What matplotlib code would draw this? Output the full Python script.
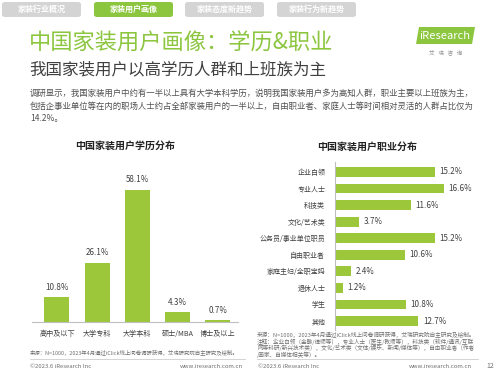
import matplotlib
matplotlib.use('Agg')
import matplotlib.pyplot as plt
from matplotlib.patches import FancyBboxPatch, Polygon
from matplotlib.lines import Line2D

plt.rcParams['font.family'] = ['Noto Sans CJK SC', 'DejaVu Sans']

# 学历分布
eduLabels = ['高中及以下', '大学专科', '大学本科', '硕士/MBA', '博士及以上']
eduValues = [10.8, 26.1, 58.1, 4.3, 0.7]

# 职业分布
jobLabels = ['企业白领', '专业人士', '科技类', '文化/艺术类', '公务员/事业单位职员',
             '自由职业者', '家庭主妇/全职宝妈', '退休人士', '学生', '其他']
jobValues = [15.2, 16.6, 11.6, 3.7, 15.2, 10.6, 2.4, 1.2, 10.8, 12.7]

tabs = ['家装行业概况', '家装用户画像', '家装态度新趋势', '家装行为新趋势']

W, H = 500, 375
GREEN = '#8cc63f'
BAR = '#9cc73a'
DARK = '#404040'


def fx(x):
    return x / W


def fy(y):
    return 1 - y / H


def axes_px(fig, x0, y0, x1, y1):
    return fig.add_axes([fx(x0), fy(y1), (x1 - x0) / W, (y1 - y0) / H])


fig = plt.figure(figsize=(5, 3.75), dpi=100)
fig.patch.set_facecolor('white')

# tabs
tabX = [0, 92, 183, 275]
for i, t in enumerate(tabs):
    col = GREEN if i == 1 else '#d4d4d4'
    fig.patches.append(FancyBboxPatch((fx(tabX[i] + 2), fy(17)), 79 / W, 15 / H,
                                      boxstyle='round,pad=0,rounding_size=0.006',
                                      transform=fig.transFigure, fc=col, ec='none'))
    fig.text(fx(tabX[i] + 41.5), fy(9.5), t, color='white', fontsize=5.8,
             fontweight='bold', ha='center', va='center')

# title block
fig.text(fx(29), fy(43), '中国家装用户画像：学历&职业', color=GREEN, fontsize=16,
         ha='left', va='center')
fig.text(fx(29), fy(70), '我国家装用户以高学历人群和上班族为主', color=DARK,
         fontsize=11.9, ha='left', va='center')
body = ['调研显示，我国家装用户中约有一半以上具有大学本科学历，说明我国家装用户多为高知人群，职业主要以上班族为主，',
        '包括企事业单位等在内的职场人士约占全部家装用户的一半以上，自由职业者、家庭人士等时间相对灵活的人群占比仅为',
        '14.2%。']
for i, line in enumerate(body):
    fig.text(fx(30), fy(93 + 13 * i), line, color='#505050', fontsize=6.05,
             ha='left', va='center')

# logo
fig.patches.append(Polygon([(fx(416), fy(44)), (fx(472), fy(44)), (fx(475), fy(27)),
                            (fx(419), fy(27))], closed=True, transform=fig.transFigure,
                           fc=GREEN, ec='none'))
fig.text(fx(445), fy(36), 'iResearch', color='white', fontsize=8, ha='center',
         va='center')
fig.text(fx(446), fy(52), '艾   瑞   咨   询', color='#909090', fontsize=4,
         ha='center', va='center')

# left chart
fig.text(fx(125), fy(146), '中国家装用户学历分布', color='#222222', fontsize=7.2,
         fontweight='bold', ha='center', va='center')
ax1 = axes_px(fig, 32, 160, 238, 322)
xs = range(len(eduValues))
ax1.bar(xs, eduValues, width=0.62, color=BAR)
for x, v in zip(xs, eduValues):
    ax1.text(x, v + 2.5, f'{v}%', ha='center', va='bottom', fontsize=5.8, color=DARK)
ax1.set_xlim(-0.62, 4.5)
ax1.set_ylim(0, 71.3)
for s in ['top', 'right', 'left']:
    ax1.spines[s].set_visible(False)
ax1.spines['bottom'].set_color('#bfbfbf')
ax1.set_yticks([])
ax1.set_xticks(list(xs))
ax1.set_xticklabels(eduLabels, fontsize=5.1, color=DARK)
ax1.tick_params(axis='x', length=0, pad=6)

fig.text(fx(30), fy(352), '来源：N=1000，2023年4月通过iClick线上问卷调研获得，艾瑞研究院自主研究及绘制。',
         fontsize=3.9, color='#707070', ha='left', va='center')
fig.lines.append(Line2D([fx(30), fx(245)], [fy(359), fy(359)], transform=fig.transFigure,
                        color='#cccccc', lw=0.6))
fig.text(fx(30), fy(367), '©2023.6 iResearch Inc', fontsize=4.3, color='#707070',
         ha='left', va='center')
fig.text(fx(243), fy(367), 'www.iresearch.com.cn', fontsize=4.3, color='#707070',
         ha='right', va='center')

# right chart
fig.text(fx(367), fy(147), '中国家装用户职业分布', color='#222222', fontsize=7.2,
         fontweight='bold', ha='center', va='center')
ax2 = axes_px(fig, 335, 162, 495, 330)
ys = range(len(jobValues))
ax2.barh(ys, jobValues, height=0.6, color=BAR)
for y, v in zip(ys, jobValues):
    ax2.text(v + 0.7, y, f'{v}%', ha='left', va='center', fontsize=5.8, color=DARK)
ax2.set_xlim(0, 24.4)
ax2.set_ylim(9.54, -0.6)
for s in ['top', 'right', 'bottom']:
    ax2.spines[s].set_visible(False)
ax2.spines['left'].set_color('#bfbfbf')
ax2.set_xticks([])
ax2.set_yticks(list(ys))
ax2.set_yticklabels(jobLabels, fontsize=5.0, color=DARK)
ax2.tick_params(axis='y', length=0, pad=7)

notes = ['来源：N=1000，2023年4月通过iClick线上问卷调研获得，艾瑞研究院自主研究及绘制。',
         '注释：企业白领（金融/律师等），专业人士（医生/教师等），科技类（软件/通讯/互联',
         '网等科研/新兴技术类），文化/艺术类（文体/娱乐、新闻/媒体等），自由职业者（作者',
         '/画家、自媒体相关等）。']
for i, n in enumerate(notes):
    fig.text(fx(257), fy(335 + 6.5 * i), n, fontsize=4.1, color='#707070',
             ha='left', va='center')
fig.lines.append(Line2D([fx(257), fx(478)], [fy(359), fy(359)], transform=fig.transFigure,
                        color='#cccccc', lw=0.6))
fig.text(fx(258), fy(367), '©2023.6 iResearch Inc', fontsize=4.3, color='#707070',
         ha='left', va='center')
fig.text(fx(472), fy(367), 'www.iresearch.com.cn', fontsize=4.3, color='#707070',
         ha='right', va='center')
fig.text(fx(490), fy(366), '12', fontsize=5, color='#707070', ha='center', va='center')

plt.savefig('out.png', dpi=100)
